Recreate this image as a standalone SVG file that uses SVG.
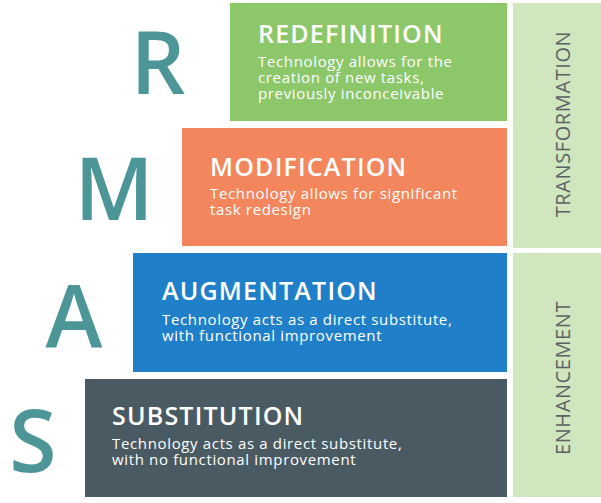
<svg xmlns="http://www.w3.org/2000/svg" width="601" height="503" viewBox="0 0 601 503">
<style>
.letter{font-family:"Open Sans","Noto Sans",sans-serif;font-weight:600;font-size:86px;fill:#4d9698;text-anchor:middle}
.title{font-family:"Open Sans","Noto Sans",sans-serif;font-weight:600;font-size:25px;letter-spacing:1.2px;fill:#ffffff}
.body{font-family:"Open Sans","Noto Sans",sans-serif;font-size:15px;letter-spacing:0.65px;fill:#ffffff}
.side{font-family:"Open Sans","Noto Sans",sans-serif;font-size:20px;letter-spacing:0.6px;fill:#5a6266;text-anchor:middle}
</style>
<rect width="601" height="503" fill="#ffffff"/>
<g id="letters">
<text class="letter" x="158" y="94">R</text>
<text class="letter" x="114" y="220">M</text>
<text class="letter" x="74" y="347">A</text>
<text class="letter" x="33" y="472">S</text>
</g>
<g id="redefinition">
<rect x="230" y="3" width="277" height="118" fill="#8cc76a"/>
<text class="title" x="258" y="43">REDEFINITION</text>
<text class="body" x="258" y="67">Technology allows for the</text>
<text class="body" x="258" y="83">creation of new tasks,</text>
<text class="body" x="258" y="99">previously inconceivable</text>
</g>
<g id="modification">
<rect x="182" y="128" width="325" height="118" fill="#f3865c"/>
<text class="title" x="210" y="176">MODIFICATION</text>
<text class="body" x="210" y="199">Technology allows for significant</text>
<text class="body" x="210" y="215">task redesign</text>
</g>
<g id="augmentation">
<rect x="133" y="253" width="374" height="119" fill="#1f80c9"/>
<text class="title" x="162" y="300">AUGMENTATION</text>
<text class="body" x="162" y="325">Technology acts as a direct substitute,</text>
<text class="body" x="162" y="341">with functional improvement</text>
</g>
<g id="substitution">
<rect x="85" y="379" width="422" height="118" fill="#4a5a63"/>
<text class="title" x="112" y="425">SUBSTITUTION</text>
<text class="body" x="112" y="449">Technology acts as a direct substitute,</text>
<text class="body" x="112" y="465">with no functional improvement</text>
</g>
<g id="transformation">
<rect x="513" y="3" width="88" height="245" fill="#cfe6bf"/>
<text class="side" transform="translate(570,124) rotate(-90)">TRANSFORMATION</text>
</g>
<g id="enhancement">
<rect x="513" y="253" width="88" height="244" fill="#cfe6bf"/>
<text class="side" transform="translate(570,378) rotate(-90)">ENHANCEMENT</text>
</g>
<g id="connectors"></g>
</svg>
